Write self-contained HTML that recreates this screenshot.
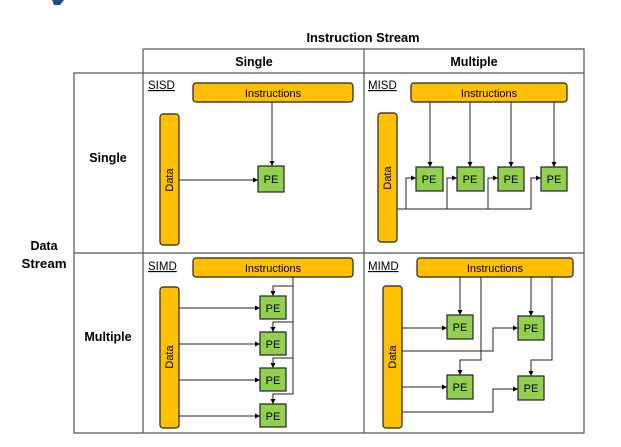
<!DOCTYPE html>
<html><head><meta charset="utf-8"><style>
html,body{margin:0;padding:0;background:#fff;width:621px;height:447px;overflow:hidden}
svg{display:block;font-family:"Liberation Sans",sans-serif}
</style></head><body>
<svg width="621" height="447" viewBox="0 0 621 447" xmlns="http://www.w3.org/2000/svg">
<defs>
<marker id="a" markerWidth="6" markerHeight="6" refX="5" refY="3" orient="auto" markerUnits="userSpaceOnUse"><path d="M0,0.5 L5,3 L0,5.5z" fill="#000"/></marker>
</defs>
<path d="M52,0 L64,0 L60,5 L54,5z" fill="#1f4e8c"/>
<!-- table -->
<g stroke="#555" stroke-width="1.2" fill="none">
<path d="M143,49 H584 V433 H74 V73 H584"/>
<path d="M143,49 V433 M364,49 V433 M74,253 H584"/>
</g>
<g font-weight="bold" font-size="12.5" fill="#000" text-anchor="middle">
<text x="363" y="42" textLength="113" lengthAdjust="spacingAndGlyphs">Instruction Stream</text>
<text x="254" y="66">Single</text>
<text x="474" y="66">Multiple</text>
<text x="108" y="162">Single</text>
<text x="108" y="341">Multiple</text>
<text x="44" y="250">Data</text>
<text x="44" y="268" textLength="45" lengthAdjust="spacingAndGlyphs">Stream</text>
</g>
<g font-size="11.5" fill="#000" text-decoration="underline">
<text x="148" y="89">SISD</text><text x="368" y="89">MISD</text>
<text x="148" y="270">SIMD</text><text x="368" y="270">MIMD</text>
</g>
<!-- bars -->
<g fill="#ffc000" stroke="#222" stroke-width="1.2">
<rect x="193" y="83" width="160" height="19" rx="3"/>
<rect x="411" y="83" width="156" height="19" rx="3"/>
<rect x="193" y="258" width="160" height="19" rx="3"/>
<rect x="417" y="258" width="156" height="19" rx="3"/>
<rect x="160" y="114" width="19" height="131" rx="3"/>
<rect x="378" y="113" width="19" height="129" rx="3"/>
<rect x="160" y="287" width="19" height="141" rx="3"/>
<rect x="383" y="286" width="19" height="142" rx="3"/>
</g>
<g font-size="11" fill="#000" text-anchor="middle">
<text x="273" y="97">Instructions</text>
<text x="489" y="97">Instructions</text>
<text x="273" y="272">Instructions</text>
<text x="495" y="272">Instructions</text>
<text transform="translate(173,180) rotate(-90)" text-anchor="middle">Data</text>
<text transform="translate(391,178) rotate(-90)">Data</text>
<text transform="translate(173,357) rotate(-90)">Data</text>
<text transform="translate(396,357) rotate(-90)">Data</text>
</g>
<!-- connectors -->
<g stroke="#222" stroke-width="1" fill="none" marker-end="url(#a)">
<path d="M272,102 V166"/><path d="M179,180 H258"/>
<path d="M430,102 V167"/><path d="M470,102 V167"/><path d="M511,102 V167"/><path d="M554,102 V167"/>
<path d="M397,209 H406 V178 H416"/><path d="M406,209 H447 V178 H457"/><path d="M447,209 H488 V178 H498"/><path d="M488,209 H531 V178 H541"/>
<path d="M293,277 V286 H273 V296"/><path d="M293,286 V322 H273 V332"/><path d="M293,322 V358 H273 V368"/><path d="M293,358 V394 H273 V404"/>
<path d="M179,308 H260"/><path d="M179,344 H260"/><path d="M179,380 H260"/><path d="M179,416 H260"/>
<path d="M460,277 V315"/><path d="M481,277 V360 H460 V375"/><path d="M531,277 V316"/><path d="M552,277 V360 H531 V376"/>
<path d="M402,328 H447"/><path d="M402,351 H493 V328 H518"/><path d="M402,387 H447"/><path d="M402,412 H493 V389 H518"/>
</g>
<!-- PEs -->
<g fill="#92d050" stroke="#222" stroke-width="1.2">
<rect x="258" y="166" width="26" height="26"/>
<rect x="416" y="167" width="27" height="24"/><rect x="457" y="167" width="27" height="24"/><rect x="498" y="167" width="26" height="24"/><rect x="541" y="167" width="26" height="24"/>
<rect x="260" y="296" width="26" height="23"/><rect x="260" y="332" width="26" height="23"/><rect x="260" y="368" width="26" height="23"/><rect x="260" y="404" width="26" height="23"/>
<rect x="447" y="315" width="26" height="24"/><rect x="518" y="316" width="26" height="24"/><rect x="447" y="375" width="26" height="24"/><rect x="518" y="376" width="26" height="24"/>
</g>
<g font-size="11" fill="#000" text-anchor="middle">
<text x="271" y="183">PE</text>
<text x="429" y="183">PE</text><text x="470" y="183">PE</text><text x="511" y="183">PE</text><text x="554" y="183">PE</text>
<text x="273" y="312">PE</text><text x="273" y="348">PE</text><text x="273" y="384">PE</text><text x="273" y="420">PE</text>
<text x="460" y="331">PE</text><text x="531" y="332">PE</text><text x="460" y="391">PE</text><text x="531" y="392">PE</text>
</g>
</svg>
</body></html>
